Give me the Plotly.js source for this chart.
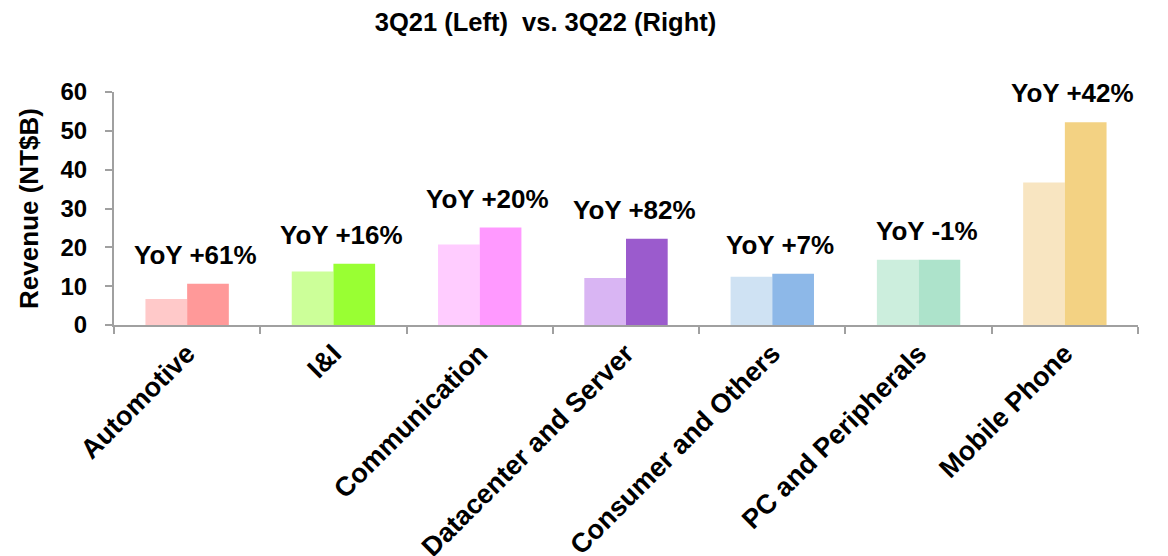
<!DOCTYPE html>
<html>
<head>
<meta charset="utf-8">
<script src="https://cdn.plot.ly/plotly-3.0.1.min.js"></script>
<style>html,body{margin:0;padding:0;background:#fff;}#chart{width:1168px;height:556px;}</style>
</head>
<body>
<div id="chart"></div>
<script>
const categories = ["Automotive", "I&amp;I", "Communication", "Datacenter and Server", "Consumer and Others", "PC and Peripherals", "Mobile Phone"];
const rev3Q21 = [6.7, 13.8, 20.7, 12.1, 12.4, 16.8, 36.7];
const rev3Q22 = [10.6, 15.8, 25.1, 22.2, 13.2, 16.8, 52.2];
const yoyLabels = ["YoY +61%", "YoY +16%", "YoY +20%", "YoY +82%", "YoY +7%", "YoY -1%", "YoY +42%"];
const colors3Q21 = ["#FFC9C9", "#CCFF99", "#FFCCFF", "#D9B5F3", "#CFE2F3", "#CCEEDD", "#F8E5C1"];
const colors3Q22 = ["#FF9999", "#99FF33", "#FF99FF", "#9B5BCD", "#8DB8E8", "#ADE3CB", "#F3D283"];

const FONT = "Liberation Sans, Arial, sans-serif";

const traces = [
  {type: "bar", name: "3Q21", x: categories, y: rev3Q21, marker: {color: colors3Q21}, hoverinfo: "x+y"},
  {type: "bar", name: "3Q22", x: categories, y: rev3Q22, marker: {color: colors3Q22}, hoverinfo: "x+y"}
];

const annotations = categories.map((c, i) => ({
  x: c, y: Math.max(rev3Q21[i], rev3Q22[i]),
  xref: "x", yref: "y",
  text: "<b>" + yoyLabels[i] + "</b>",
  showarrow: false, yanchor: "bottom", xanchor: "center",
  yshift: 12, xshift: 8,
  font: {family: FONT, size: 26, color: "#000"}
}));

const layout = {
  width: 1168, height: 556,
  margin: {l: 114, r: 30, t: 92, b: 231},
  paper_bgcolor: "#fff", plot_bgcolor: "#fff",
  showlegend: false,
  barmode: "group", bargap: 0.43, bargroupgap: 0,
  title: {text: "<b>3Q21 (Left)  vs. 3Q22 (Right)</b>", x: 0.467, xanchor: "center", y: 0.96, yanchor: "middle",
    font: {family: FONT, size: 25.5, color: "#000"}},
  xaxis: {
    type: "category", tickangle: -45, automargin: false,
    tickson: "boundaries", ticks: "outside", ticklen: 7, tickcolor: "#a0a0a0", tickwidth: 2,
    showline: true, linecolor: "#a0a0a0", linewidth: 2, showgrid: false,
    tickfont: {family: FONT, size: 27, color: "#000", weight: "bold"}
  },
  yaxis: {
    range: [0, 60], dtick: 10, automargin: false,
    ticks: "outside", ticklen: 7, tickcolor: "#a0a0a0", tickwidth: 2,
    ticklabelstandoff: 13,
    showline: true, linecolor: "#a0a0a0", linewidth: 2, showgrid: false, zeroline: false,
    tickfont: {family: FONT, size: 24, color: "#000", weight: "bold"},
    title: {text: "<b>Revenue (NT$B)</b>", standoff: 14, font: {family: FONT, size: 26, color: "#000"}}
  },
  annotations: annotations
};

Plotly.newPlot("chart", traces, layout, {displayModeBar: false, staticPlot: true});
</script>
</body>
</html>
